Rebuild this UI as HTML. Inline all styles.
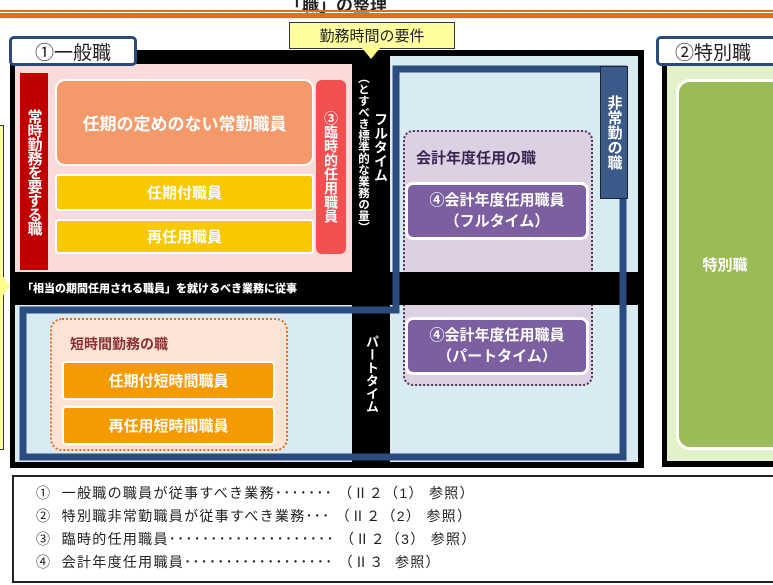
<!DOCTYPE html>
<html><head><meta charset="utf-8">
<style>
*{margin:0;padding:0;box-sizing:border-box}
body{width:773px;height:585px;position:relative;overflow:hidden;background:#fff;font-family:"Liberation Sans","Noto Sans CJK JP",sans-serif}
.a{position:absolute}
.c{display:flex;align-items:center;justify-content:center;text-align:center}
.v{writing-mode:vertical-rl;text-orientation:upright}
.w{color:#fff;font-weight:bold}
</style></head><body>
<div class="a" style="left:285px;top:-9px;font-size:17px;font-weight:bold;color:#222">「職」の整理</div>
<div class="a" style="left:0;top:10px;width:773px;height:2px;background:#e07010"></div>
<div class="a" style="left:0;top:13px;width:773px;height:5px;background:#e07010"></div>

<div class="a" style="left:-4px;top:125px;width:8px;height:325px;border:1px solid #333;background:#ffffa0"></div>
<div class="a" style="left:0;top:272px;width:0;height:0;border-top:14px solid transparent;border-bottom:14px solid transparent;border-left:10px solid #ffff90"></div>

<div class="a" style="left:10px;top:50px;width:634px;height:418px;background:#000"></div>
<div class="a" style="left:15px;top:64px;width:337px;height:208px;background:#fbdada"></div>
<div class="a" style="left:390px;top:56px;width:248px;height:216px;background:#d8ebf2"></div>
<div class="a" style="left:15px;top:305px;width:337px;height:157px;background:#d8ebf2"></div>
<div class="a" style="left:390px;top:305px;width:248px;height:157px;background:#d8ebf2"></div>

<div class="a c" style="left:9px;top:36px;width:128px;height:30px;background:#fff;border:3px solid #2a4a7a;border-radius:5px;font-size:19px;color:#222">①一般職</div>

<div class="a c" style="left:289px;top:22px;width:166px;height:27px;background:#ffffa0;border:1px solid #333;font-size:15px;color:#222">勤務時間の要件</div>
<div class="a" style="left:362px;top:48px;width:0;height:0;border-left:9px solid transparent;border-right:9px solid transparent;border-top:11px solid #ffff90"></div>

<div class="a c v w" style="left:20px;top:73px;width:28px;height:197px;background:#c00000;font-size:15px;letter-spacing:-1px">常時勤務を要する職</div>
<div class="a c w" style="left:55px;top:79px;width:259px;height:87px;background:#f4996a;border:2px solid #fff;border-radius:10px;font-size:17px">任期の定めのない常勤職員</div>
<div class="a c w" style="left:55px;top:174px;width:259px;height:37px;background:#f8c800;border:2px solid #fff;border-radius:4px;font-size:15px">任期付職員</div>
<div class="a c w" style="left:55px;top:219px;width:259px;height:35px;background:#f8c800;border:2px solid #fff;border-radius:4px;font-size:15px">再任用職員</div>
<div class="a c v w" style="left:316px;top:80px;width:30px;height:174px;background:#f05050;border-radius:6px;font-size:14px">③臨時的任用職員</div>

<div class="a v w" style="left:354px;top:72px;width:18px;height:200px;font-size:11.5px;line-height:18px">（とすべき標準的な業務の量）</div>
<div class="a v w" style="left:372px;top:112px;width:18px;height:120px;font-size:14px;line-height:18px">フルタイム</div>
<div class="a v w" style="left:362px;top:335px;width:18px;height:100px;font-size:13px;line-height:18px">パートタイム</div>

<div class="a w" style="left:22px;top:280px;font-size:11px;font-weight:900">「相当の期間任用される職員」を就けるべき業務に従事</div>
<div class="a w" style="left:437px;top:280px;font-size:11px;font-weight:900">左記以外の業務に従事</div>

<svg class="a" style="left:0;top:0" width="773" height="585">
<path d="M396 69 L623 69 L623 457 L23 457 L23 310 L396 310 Z" fill="none" stroke="#2b4c7e" stroke-width="7"/>
</svg>
<div class="a c v w" style="left:600px;top:66px;width:28px;height:133px;background:#3a5a8a;border:1px solid #223;font-size:15px">非常勤の職</div>

<div class="a" style="left:403px;top:130px;width:190px;height:256px;background:#ddd0e2;border:2px dotted #4a3a5a;border-radius:10px"></div>
<div class="a" style="left:403px;top:272px;width:190px;height:33px;background:#000"></div>
<div class="a" style="left:416px;top:147px;font-size:15px;font-weight:bold;color:#3a2550">会計年度任用の職</div>
<div class="a c w" style="left:405px;top:182px;width:184px;height:58px;background:#7b5fa0;border:3px solid #fff;border-radius:8px;font-size:15px;line-height:21px">④会計年度任用職員<br>（フルタイム）</div>
<div class="a c w" style="left:405px;top:317px;width:184px;height:58px;background:#7b5fa0;border:3px solid #fff;border-radius:8px;font-size:15px;line-height:21px">④会計年度任用職員<br>（パートタイム）</div>

<div class="a" style="left:50px;top:318px;width:238px;height:133px;background:#fbe3d6;border:2px dotted #e07020;border-radius:12px"></div>
<div class="a" style="left:70px;top:334px;font-size:14px;font-weight:bold;color:#8a3030">短時間勤務の職</div>
<div class="a c w" style="left:62px;top:361px;width:213px;height:39px;background:#f59a00;border:2px solid #fff;border-radius:4px;font-size:15px">任期付短時間職員</div>
<div class="a c w" style="left:62px;top:406px;width:213px;height:39px;background:#f59a00;border:2px solid #fff;border-radius:4px;font-size:15px">再任用短時間職員</div>

<div class="a" style="left:662px;top:60px;width:120px;height:407px;background:#000"></div>
<div class="a" style="left:667px;top:64px;width:120px;height:397px;background:#e2f2c8"></div>
<div class="a c w" style="left:676px;top:79px;width:110px;height:371px;background:#9bbb59;border:3px solid #fff;border-radius:14px;font-size:15px;padding-right:12px">特別職</div>
<div class="a c" style="left:656px;top:36px;width:126px;height:30px;background:#fff;border:3px solid #2a4a7a;border-radius:5px;font-size:19px;color:#222;padding-right:12px">②特別職</div>

<div class="a" style="left:12px;top:475px;width:770px;height:108px;border:2px solid #222;background:#fff"></div>
<div class="a" style="left:36px;top:482px;font-size:14px;line-height:23px;color:#222;white-space:pre;letter-spacing:1.3px">①  一般職の職員が従事すべき業務･･･････ （Ⅱ２（1） 参照）
②  特別職非常勤職員が従事すべき業務･･･ （Ⅱ２（2） 参照）
③  臨時的任用職員････････････････････ （Ⅱ２（3） 参照）
④  会計年度任用職員･･････････････････ （Ⅱ３  参照）</div>
</body></html>
